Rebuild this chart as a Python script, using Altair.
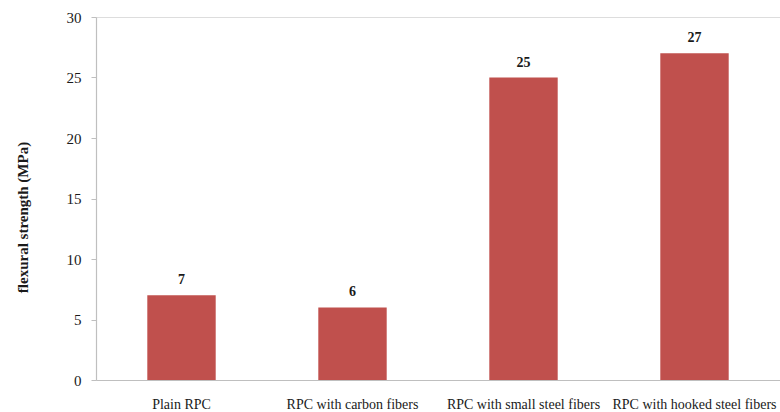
import altair as alt
import pandas as pd

categories = ["Plain RPC", "RPC with carbon fibers", "RPC with small steel fibers", "RPC with hooked steel fibers"]
values = [7, 6, 25, 27]

df = pd.DataFrame({"cat": categories, "val": values})

x = alt.X("cat:N", sort=categories, title=None,
          scale=alt.Scale(paddingInner=0.6, paddingOuter=0.3),
          axis=alt.Axis(labelAngle=0, labelFont="Liberation Serif", labelFontSize=14,
                        labelColor="#1a1a1a", ticks=False, labelPadding=17,
                        domainColor="#bfbfbf", domainWidth=1.2))
y = alt.Y("val:Q", title="flexural strength (MPa)",
          scale=alt.Scale(domain=[0, 30], nice=False),
          axis=alt.Axis(values=[0, 5, 10, 15, 20, 25, 30], grid=False,
                        labelFont="Liberation Serif", labelFontSize=15, labelColor="#1a1a1a",
                        tickColor="#bfbfbf", tickSize=5, labelPadding=10,
                        domainColor="#bfbfbf", domainWidth=1.2,
                        titleFont="Liberation Serif", titleFontSize=15, titleFontWeight="bold",
                        titleColor="#1a1a1a", titleX=-74, titleY=200, titleAngle=-90,
                        titleBaseline="middle", titleAlign="center"))

bars = alt.Chart(df).mark_bar(color="#C0504D").encode(x=x, y=y)
labels = alt.Chart(df).mark_text(dy=-8, baseline="bottom", font="Liberation Serif",
                                 fontSize=14, fontWeight="bold", color="#1a1a1a").encode(
    x=alt.X("cat:N", sort=categories), y="val:Q", text="val:Q")

chart = (bars + labels).properties(
    width=684, height=363,
    padding={"left": 96, "top": 17, "right": 0, "bottom": 32},
    autosize="none",
).configure_view(stroke=None).configure(background="white")

chart.save("out.html", embed_options={"renderer": "svg", "actions": False})
